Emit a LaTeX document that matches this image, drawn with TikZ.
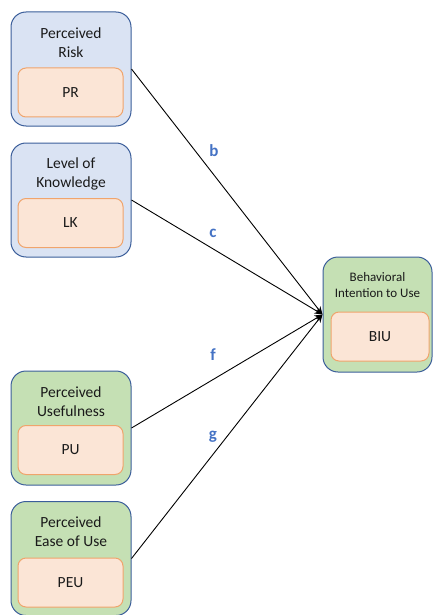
\documentclass[tikz,border=0pt]{standalone}
\usepackage{fontspec}
\setmainfont{Carlito}
\usetikzlibrary{arrows.meta}
\definecolor{boxblue}{HTML}{DAE3F3}
\definecolor{boxgreen}{HTML}{C5E0B4}
\definecolor{edgeblue}{HTML}{3B5E9A}
\definecolor{innerfill}{HTML}{FBE5D6}
\definecolor{inneredge}{HTML}{F0A46C}
\definecolor{labelblue}{HTML}{4472C4}
\definecolor{textdark}{HTML}{1A1A1A}
\tikzset{
  outerbox/.style={draw=edgeblue, line width=1pt, rounded corners=15pt,
    minimum width=120pt, minimum height=114pt, inner sep=0pt},
  bluebox/.style={outerbox, fill=boxblue},
  greenbox/.style={outerbox, fill=boxgreen},
  innerbox/.style={draw=inneredge, line width=1pt, fill=innerfill, rounded corners=8pt,
    minimum width=105pt, minimum height=49pt, inner sep=0pt, text=textdark,
    font=\fontsize{15.5}{18}\selectfont},
  title/.style={align=center, font=\fontsize{15.5}{19}\selectfont, inner sep=0pt, text=textdark},
  pathlabel/.style={text=labelblue, font=\fontsize{17}{20}\selectfont\bfseries, inner sep=0pt},
  link/.style={draw=black, line width=0.9pt, -{Stealth[length=8pt,width=7pt]}}
}
\begin{document}
\begin{tikzpicture}[x=1pt,y=-1pt]
\useasboundingbox (0,0) rectangle (432,615);

% Perceived Risk
\node[bluebox] (prbox) at (71,69) {};
\node[title] (prtitle) at (71,42.5) {Perceived\\Risk};
\node[innerbox] (pr) at (70.5,92.5) {PR};

% Level of Knowledge
\node[bluebox] (lkbox) at (71,200) {};
\node[title] (lktitle) at (71,173.5) {Level of\\Knowledge};
\node[innerbox] (lk) at (70.5,223) {LK};

% Perceived Usefulness
\node[greenbox] (pubox) at (71,428) {};
\node[title] (putitle) at (71,401.5) {Perceived\\Usefulness};
\node[innerbox] (pu) at (70.5,450) {PU};

% Perceived Ease of Use
\node[greenbox] (peubox) at (71,558.5) {};
\node[title] (peutitle) at (71,531.5) {Perceived\\Ease of Use};
\node[innerbox] (peu) at (70.5,582.5) {PEU};

% Behavioral Intention to Use
\node[greenbox, minimum width=109pt, minimum height=115pt] (biubox) at (377.5,314.5) {};
\node[title, font=\fontsize{13}{16}\selectfont] (biutitle) at (377.5,285) {Behavioral\\Intention to Use};
\node[innerbox, minimum width=98pt] (biu) at (380,336.5) {BIU};

% Paths into BIU
\coordinate (hub) at (biubox.west);
\draw[link] (prbox.east) -- (hub);
\draw[link] (lkbox.east) -- (hub);
\draw[link] (pubox.east) -- (hub);
\draw[link] (peubox.east) -- (hub);

% Path labels
\node[pathlabel] (lb) at (214,151) {b};
\node[pathlabel] (lc) at (213,233) {c};
\node[pathlabel] (lf) at (213,355) {f};
\node[pathlabel] (lg) at (213,437) {g};
\end{tikzpicture}
\end{document}
